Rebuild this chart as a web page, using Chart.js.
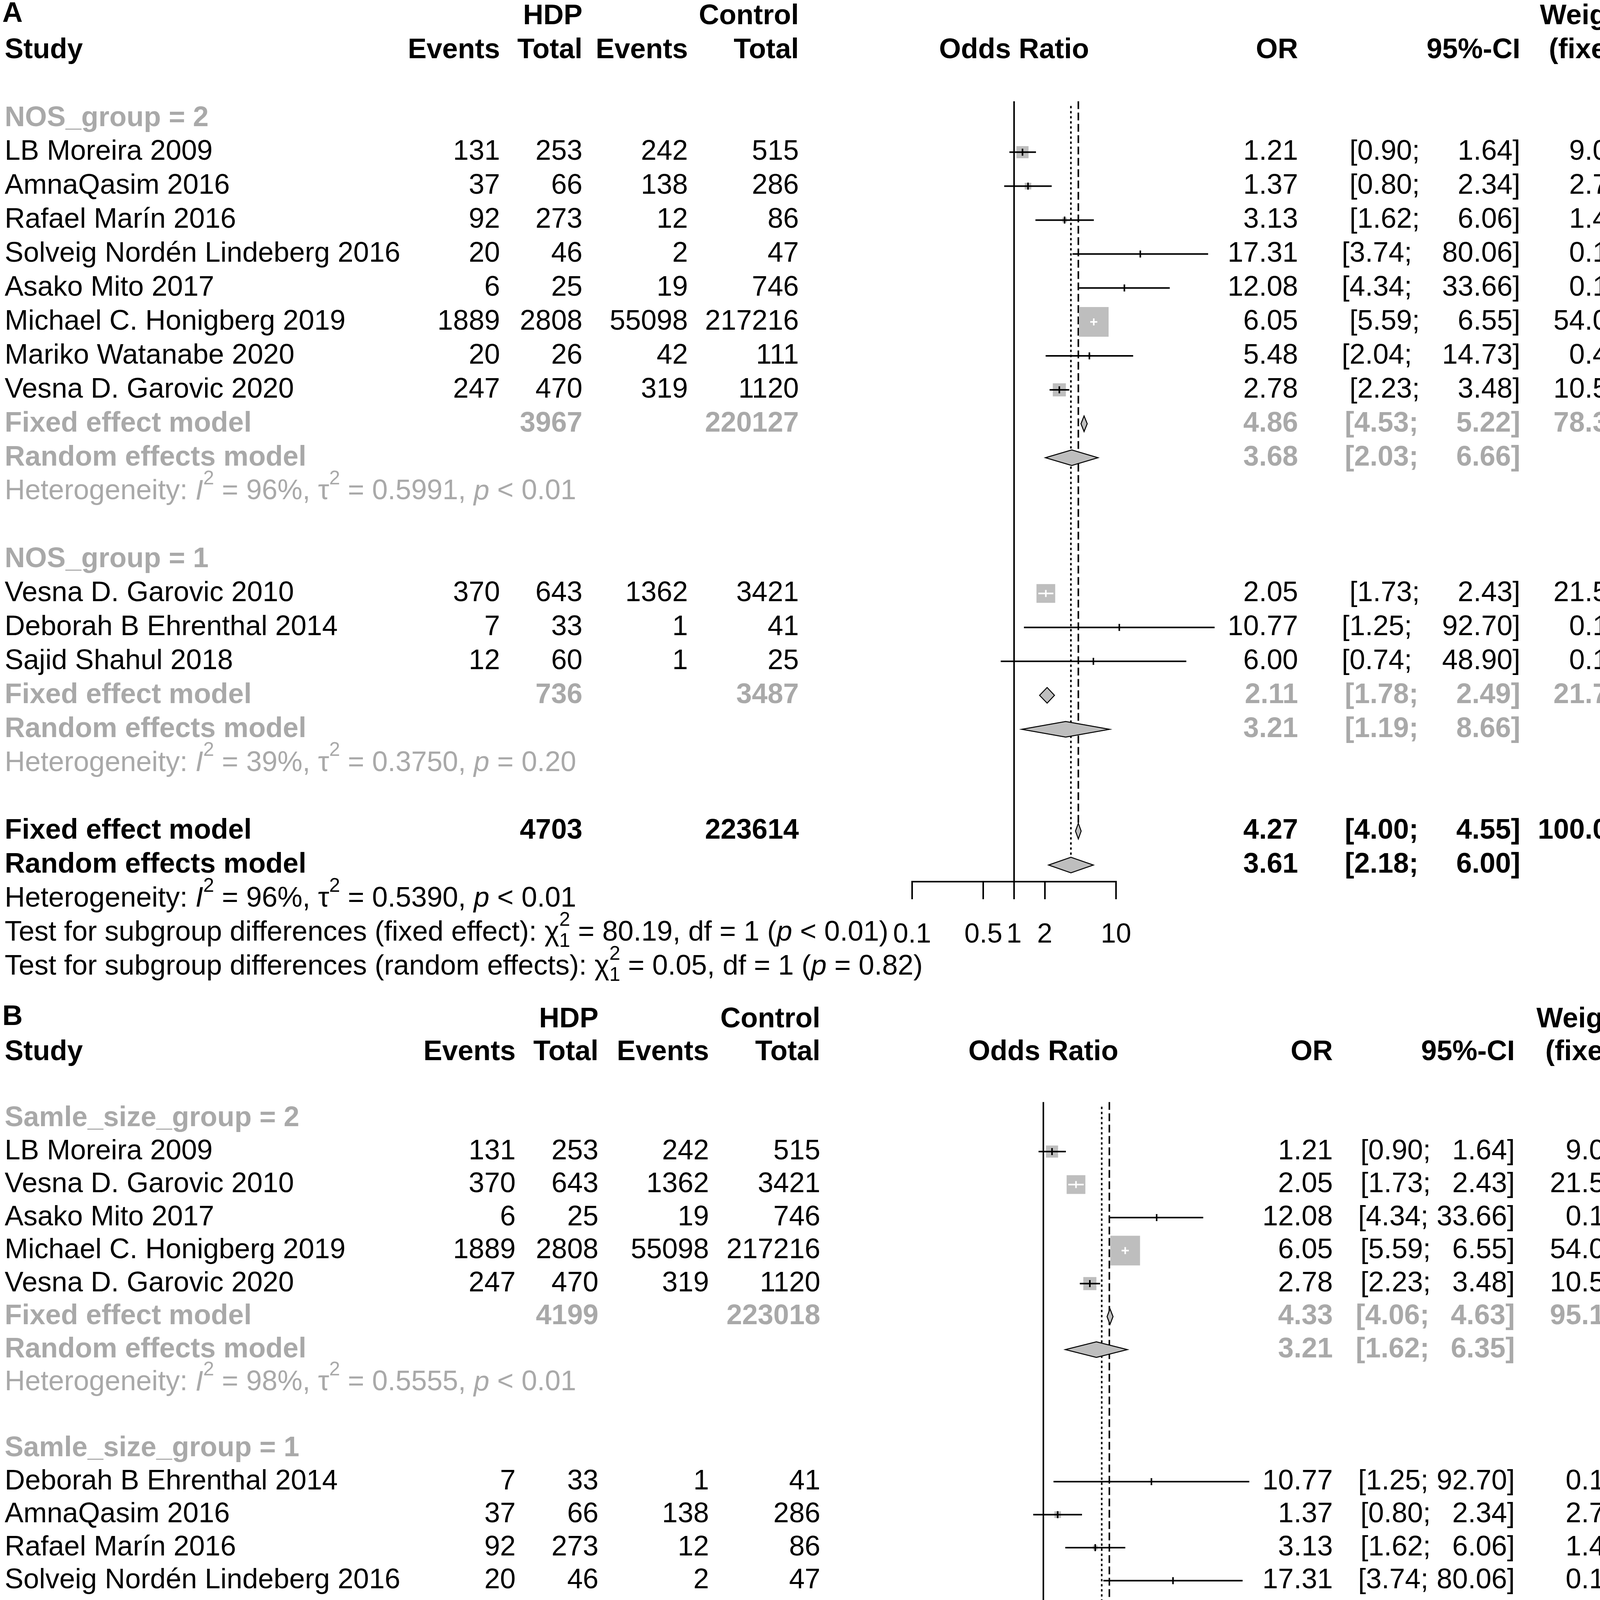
<!DOCTYPE html>
<html>
<head>
<meta charset="utf-8">
<script src="https://cdn.jsdelivr.net/npm/chart.js@4.4.0/dist/chart.umd.min.js"></script>
<style>
  html, body { margin: 0; padding: 0; background: #fff; }
  canvas { display: block; }
</style>
</head>
<body>
<canvas id="panelA" width="4550" height="2540"></canvas>
<canvas id="panelB" width="4550" height="2509"></canvas>
<script>
// studies (same study data used in both panels)
const studyNames = ['LB Moreira 2009', 'AmnaQasim 2016', 'Rafael Marín 2016', 'Solveig Nordén Lindeberg 2016',
  'Asako Mito 2017', 'Michael C. Honigberg 2019', 'Mariko Watanabe 2020', 'Vesna D. Garovic 2020',
  'Vesna D. Garovic 2010', 'Deborah B Ehrenthal 2014', 'Sajid Shahul 2018'];
const hdpEvents  = [131, 37, 92, 20, 6, 1889, 20, 247, 370, 7, 12];
const hdpTotal   = [253, 66, 273, 46, 25, 2808, 26, 470, 643, 33, 60];
const ctrlEvents = [242, 138, 12, 2, 19, 55098, 42, 319, 1362, 1, 1];
const ctrlTotal  = [515, 286, 86, 47, 746, 217216, 111, 1120, 3421, 41, 25];
const oddsRatio  = [1.21, 1.37, 3.13, 17.31, 12.08, 6.05, 5.48, 2.78, 2.05, 10.77, 6.00];
const ciLower    = [0.90, 0.80, 1.62, 3.74, 4.34, 5.59, 2.04, 2.23, 1.73, 1.25, 0.74];
const ciUpper    = [1.64, 2.34, 6.06, 80.06, 33.66, 6.55, 14.73, 3.48, 2.43, 92.70, 48.90];
const weightFixed  = [9.0, 2.7, 1.4, 0.1, 0.1, 54.0, 0.4, 10.5, 21.5, 0.1, 0.1];
const weightRandom = [11.9, 10.9, 10.3, 5.8, 8.2, 12.4, 8.4, 12.1, 12.2, 3.8, 4.0];

// panel A: NOS_group
const groupLabelsA  = ['NOS_group = 2', 'NOS_group = 1'];
const groupStudiesA = [[0, 1, 2, 3, 4, 5, 6, 7], [8, 9, 10]];
const groupTotalsA  = [[3967, 220127], [736, 3487]];
const groupFixedA   = [[4.86, 4.53, 5.22, 78.3], [2.11, 1.78, 2.49, 21.7]];
const groupRandomA  = [[3.68, 2.03, 6.66, 80.0], [3.21, 1.19, 8.66, 20.0]];
const groupHetA     = [['96%', '0.5991', '< 0.01'], ['39%', '0.3750', '= 0.20']];
const subgroupTestA = [['80.19', '< 0.01'], ['0.05', '= 0.82']];

// panel B: Samle_size_group
const groupLabelsB  = ['Samle_size_group = 2', 'Samle_size_group = 1'];
const groupStudiesB = [[0, 8, 4, 5, 7], [9, 1, 2, 3, 10, 6]];
const groupTotalsB  = [[4199, 223018], [504, 596]];
const groupFixedB   = [[4.33, 4.06, 4.63, 95.1], [2.96, 2.10, 4.19, 4.9]];
const groupRandomB  = [[3.21, 1.62, 6.35, 56.8], [4.26, 1.94, 9.33, 43.2]];
const groupHetB     = [['98%', '0.5555', '< 0.01'], ['69%', '0.5655', '< 0.01']];
const subgroupTestB = [['4.49', '= 0.03'], ['0.28', '= 0.59']];

// overall (both panels)
const overallTotals = [4703, 223614];
const overallFixed  = [4.27, 4.00, 4.55, 100.0];
const overallRandom = [3.61, 2.18, 6.00, 100.0];
const overallHet    = ['96%', '0.5390', '< 0.01'];

const tickValues = [0.1, 0.5, 1, 2, 10];

const FONT = '"Liberation Sans", Arial, Helvetica, sans-serif';
const SIZE = 72;
const GREY = '#a9a9a9';
const BOXGREY = '#bebebe';
const W = 4550;
const AXIS_BOX = 180;
const DIAMOND_H = 40;

function boxSide(w) { return 76 * Math.sqrt(w / 54); }

function setFont(ctx, bold, italic, size) {
  ctx.font = (italic ? 'italic ' : '') + (bold ? 'bold ' : '') + (size || SIZE) + 'px ' + FONT;
}
function txt(ctx, s, x, y, align, color, bold) {
  setFont(ctx, bold, false);
  ctx.fillStyle = color;
  ctx.textAlign = align;
  ctx.textBaseline = 'middle';
  ctx.fillText(s, x, y);
}
function rich(ctx, segs, x, y, color) {
  ctx.fillStyle = color;
  ctx.textAlign = 'left';
  ctx.textBaseline = 'middle';
  const small = Math.round(SIZE * 0.7);
  let cx = x;
  segs.forEach(([s, st]) => {
    if (st === 'sup') {
      setFont(ctx, false, false, small);
      ctx.fillText(s, cx, y - SIZE * 0.45);
      cx += ctx.measureText(s).width;
    } else if (st === 'chi') {
      setFont(ctx, false, false, small);
      ctx.fillText('2', cx, y - SIZE * 0.45);
      ctx.fillText('1', cx, y + SIZE * 0.3);
      cx += ctx.measureText('2').width;
    } else {
      setFont(ctx, false, st === 'it');
      ctx.fillText(s, cx, y);
      cx += ctx.measureText(s).width;
    }
  });
}
function hetSegs(h) {
  return [['Heterogeneity: '], ['I', 'it'], ['2', 'sup'], [' = ' + h[0] + ', '], ['τ'], ['2', 'sup'],
    [' = ' + h[1] + ', '], ['p', 'it'], [' ' + h[2]]];
}
function testSegs(kind, t) {
  return [['Test for subgroup differences (' + kind + '): χ'], ['', 'chi'], [' = ' + t[0] + ', df = 1 ('],
    ['p', 'it'], [' ' + t[1] + ')']];
}
function drawCI(ctx, P, lo, hi, y, color, bold) {
  const hiStr = hi.toFixed(2) + ']';
  const loStr = '[' + lo.toFixed(2) + ';';
  setFont(ctx, bold, false);
  ctx.fillStyle = color;
  ctx.textAlign = 'right';
  ctx.textBaseline = 'middle';
  ctx.fillText(hiStr, P.ciR, y);
  const gap = hi < 10 ? P.ciGap[1] : P.ciGap[0];
  ctx.fillText(loStr, P.ciR - ctx.measureText(hiStr).width - gap, y);
}
function pct(v) { return v.toFixed(1) + '%'; }

function buildRows(P) {
  const rows = [];
  let i = 3;
  P.groupLabels.forEach((lab, g) => {
    rows.push({ kind: 'group', i: i++, g });
    P.groupStudies[g].forEach(s => rows.push({ kind: 'study', i: i++, s }));
    rows.push({ kind: 'fixed', i: i++, g });
    rows.push({ kind: 'random', i: i++, g });
    rows.push({ kind: 'het', i: i++, g });
    i++;
  });
  rows.push({ kind: 'allFixed', i: i++ });
  rows.push({ kind: 'allRandom', i: i++ });
  rows.push({ kind: 'allHet', i: i++ });
  rows.push({ kind: 'testFixed', i: i++ });
  rows.push({ kind: 'testRandom', i: i++ });
  return rows;
}

function diamond(ctx, xs, est, lo, hi, yy) {
  const xl = xs.getPixelForValue(lo), xh = xs.getPixelForValue(hi), xm = xs.getPixelForValue(est);
  ctx.beginPath();
  ctx.moveTo(xl, yy);
  ctx.lineTo(xm, yy - DIAMOND_H / 2);
  ctx.lineTo(xh, yy);
  ctx.lineTo(xm, yy + DIAMOND_H / 2);
  ctx.closePath();
  ctx.fillStyle = BOXGREY;
  ctx.fill();
  ctx.lineWidth = 2.5;
  ctx.strokeStyle = '#000';
  ctx.stroke();
}
function seg(ctx, x1, y1, x2, y2) {
  ctx.beginPath();
  ctx.moveTo(x1, y1);
  ctx.lineTo(x2, y2);
  ctx.stroke();
}

function forestPlugin(P, rows) {
  const rowOf = k => rows.find(r => r.kind === k).i;
  return {
    id: 'forest' + P.letter,
    beforeDatasetsDraw(chart) {
      const ctx = chart.ctx, xs = chart.scales.x, ys = chart.scales.y;
      const top = ys.getPixelForValue(2.5);
      ctx.save();
      ctx.strokeStyle = '#000';
      ctx.lineWidth = 4;
      const x1 = xs.getPixelForValue(1);
      seg(ctx, x1, top, x1, chart.chartArea.bottom);
      ctx.setLineDash([6, 7]);
      const xr = xs.getPixelForValue(overallRandom[0]);
      seg(ctx, xr, top + 12, xr, ys.getPixelForValue(rowOf('allRandom')) - DIAMOND_H / 2);
      ctx.setLineDash([20, 9]);
      const xf = xs.getPixelForValue(overallFixed[0]);
      seg(ctx, xf, top, xf, ys.getPixelForValue(rowOf('allFixed')) - DIAMOND_H / 2);
      ctx.restore();
    },
    afterDatasetsDraw(chart) {
      const ctx = chart.ctx, xs = chart.scales.x, ys = chart.scales.y;
      ctx.save();
      ctx.lineWidth = 4;
      rows.forEach(r => {
        const yy = ys.getPixelForValue(r.i);
        if (r.kind === 'study') {
          const s = r.s;
          const xl = xs.getPixelForValue(ciLower[s]), xh = xs.getPixelForValue(ciUpper[s]);
          const xm = xs.getPixelForValue(oddsRatio[s]);
          const inside = (xh - xl) < boxSide(weightFixed[s]);
          ctx.strokeStyle = inside ? '#fff' : '#000';
          ctx.lineWidth = 4;
          seg(ctx, xl, yy, xh, yy);
          seg(ctx, xm, yy - 9, xm, yy + 9);
        } else if (r.kind === 'fixed') {
          const f = P.groupFixed[r.g];
          diamond(ctx, xs, f[0], f[1], f[2], yy);
        } else if (r.kind === 'random') {
          const f = P.groupRandom[r.g];
          diamond(ctx, xs, f[0], f[1], f[2], yy);
        } else if (r.kind === 'allFixed') {
          diamond(ctx, xs, overallFixed[0], overallFixed[1], overallFixed[2], yy);
        } else if (r.kind === 'allRandom') {
          diamond(ctx, xs, overallRandom[0], overallRandom[1], overallRandom[2], yy);
        }
      });
      ctx.restore();
    },
    afterDraw(chart) {
      const ctx = chart.ctx, ys = chart.scales.y;
      const Y = i => ys.getPixelForValue(i);
      const mid = (chart.chartArea.left + chart.chartArea.right) / 2;
      ctx.save();
      // header
      txt(ctx, P.letter, 6, Y(0) - 6, 'left', '#000', true);
      txt(ctx, 'HDP', P.total1, Y(0), 'right', '#000', true);
      txt(ctx, 'Control', P.total2, Y(0), 'right', '#000', true);
      txt(ctx, 'Weight', P.wfR, Y(0), 'right', '#000', true);
      txt(ctx, 'Weight', P.wrR, Y(0), 'right', '#000', true);
      txt(ctx, 'Study', 12, Y(1), 'left', '#000', true);
      txt(ctx, 'Events', P.events1, Y(1), 'right', '#000', true);
      txt(ctx, 'Total', P.total1, Y(1), 'right', '#000', true);
      txt(ctx, 'Events', P.events2, Y(1), 'right', '#000', true);
      txt(ctx, 'Total', P.total2, Y(1), 'right', '#000', true);
      txt(ctx, 'Odds Ratio', mid, Y(1), 'center', '#000', true);
      txt(ctx, 'OR', P.orR, Y(1), 'right', '#000', true);
      txt(ctx, '95%-CI', P.ciR, Y(1), 'right', '#000', true);
      txt(ctx, '(fixed)', P.wfR, Y(1), 'right', '#000', true);
      txt(ctx, '(random)', P.wrR, Y(1), 'right', '#000', true);

      rows.forEach(r => {
        const yy = Y(r.i);
        if (r.kind === 'group') {
          txt(ctx, P.groupLabels[r.g], 12, yy, 'left', GREY, true);
        } else if (r.kind === 'study') {
          const s = r.s;
          txt(ctx, studyNames[s], 12, yy, 'left', '#000', false);
          txt(ctx, String(hdpEvents[s]), P.events1, yy, 'right', '#000', false);
          txt(ctx, String(hdpTotal[s]), P.total1, yy, 'right', '#000', false);
          txt(ctx, String(ctrlEvents[s]), P.events2, yy, 'right', '#000', false);
          txt(ctx, String(ctrlTotal[s]), P.total2, yy, 'right', '#000', false);
          txt(ctx, oddsRatio[s].toFixed(2), P.orR, yy, 'right', '#000', false);
          drawCI(ctx, P, ciLower[s], ciUpper[s], yy, '#000', false);
          txt(ctx, pct(weightFixed[s]), P.wfR, yy, 'right', '#000', false);
          txt(ctx, pct(weightRandom[s]), P.wrR, yy, 'right', '#000', false);
        } else if (r.kind === 'fixed' || r.kind === 'allFixed') {
          const all = r.kind === 'allFixed';
          const col = all ? '#000' : GREY;
          const f = all ? overallFixed : P.groupFixed[r.g];
          const t = all ? overallTotals : P.groupTotals[r.g];
          txt(ctx, 'Fixed effect model', 12, yy, 'left', col, true);
          txt(ctx, String(t[0]), P.total1, yy, 'right', col, true);
          txt(ctx, String(t[1]), P.total2, yy, 'right', col, true);
          txt(ctx, f[0].toFixed(2), P.orR, yy, 'right', col, true);
          drawCI(ctx, P, f[1], f[2], yy, col, true);
          txt(ctx, pct(f[3]), P.wfR, yy, 'right', col, true);
          txt(ctx, '--', P.wrR, yy, 'right', col, true);
        } else if (r.kind === 'random' || r.kind === 'allRandom') {
          const all = r.kind === 'allRandom';
          const col = all ? '#000' : GREY;
          const f = all ? overallRandom : P.groupRandom[r.g];
          txt(ctx, 'Random effects model', 12, yy, 'left', col, true);
          txt(ctx, f[0].toFixed(2), P.orR, yy, 'right', col, true);
          drawCI(ctx, P, f[1], f[2], yy, col, true);
          txt(ctx, '--', P.wfR, yy, 'right', col, true);
          txt(ctx, pct(f[3]), P.wrR, yy, 'right', col, true);
        } else if (r.kind === 'het') {
          rich(ctx, hetSegs(P.groupHet[r.g]), 12, yy, GREY);
        } else if (r.kind === 'allHet') {
          rich(ctx, hetSegs(overallHet), 12, yy, '#000');
        } else if (r.kind === 'testFixed') {
          rich(ctx, testSegs('fixed effect', P.subgroupTest[0]), 12, yy, '#000');
        } else if (r.kind === 'testRandom') {
          rich(ctx, testSegs('random effects', P.subgroupTest[1]), 12, yy, '#000');
        }
      });
      ctx.restore();
    }
  };
}

function makePanel(canvasId, P) {
  const rows = buildRows(P);
  const studyRows = rows.filter(r => r.kind === 'study');
  const yMin = -P.rowTop / P.rowPitch;
  const yMax = yMin + P.axisY / P.rowPitch;
  new Chart(document.getElementById(canvasId), {
    type: 'scatter',
    data: {
      datasets: [{
        data: studyRows.map(r => ({ x: oddsRatio[r.s], y: r.i })),
        pointStyle: 'rect',
        pointRadius: studyRows.map(r => boxSide(weightFixed[r.s]) / Math.SQRT2),
        pointHoverRadius: studyRows.map(r => boxSide(weightFixed[r.s]) / Math.SQRT2),
        backgroundColor: BOXGREY,
        borderWidth: 0,
        clip: false
      }]
    },
    options: {
      responsive: false,
      animation: false,
      devicePixelRatio: 1,
      events: [],
      layout: {
        autoPadding: false,
        padding: { left: P.x0, right: W - P.x1, top: 0, bottom: P.height - P.axisY - AXIS_BOX }
      },
      plugins: { legend: { display: false }, tooltip: { enabled: false } },
      scales: {
        x: {
          type: 'logarithmic',
          min: 0.1,
          max: 10,
          afterBuildTicks: ax => { ax.ticks = tickValues.map(v => ({ value: v })); },
          afterFit: ax => { ax.height = AXIS_BOX; },
          ticks: {
            autoSkip: false, maxRotation: 0, minRotation: 0,
            padding: P.tickPad, color: '#000',
            font: { family: FONT, size: 70 },
            callback: v => String(v)
          },
          grid: { drawOnChartArea: false, drawTicks: true, tickLength: P.tickLen, color: '#000', lineWidth: 4 },
          border: { display: true, color: '#000', width: 4 }
        },
        y: { type: 'linear', display: false, reverse: true, min: yMin, max: yMax }
      }
    },
    plugins: [forestPlugin(P, rows)]
  });
}

makePanel('panelA', {
  letter: 'A', height: 2540, rowTop: 42, rowPitch: 86.9, axisY: 2257, x0: 2335, x1: 2857,
  tickLen: 45, tickPad: 50,
  events1: 1280, total1: 1491, events2: 1761, total2: 2045,
  orR: 3323, ciR: 3892, wfR: 4181, wrR: 4527, ciGap: [77, 97],
  groupLabels: groupLabelsA, groupStudies: groupStudiesA, groupTotals: groupTotalsA,
  groupFixed: groupFixedA, groupRandom: groupRandomA, groupHet: groupHetA, subgroupTest: subgroupTestA
});

makePanel('panelB', {
  letter: 'B', height: 2509, rowTop: 70, rowPitch: 84.5, axisY: 2222, x0: 2403, x1: 2939,
  tickLen: 41, tickPad: 45,
  events1: 1320, total1: 1532, events2: 1815, total2: 2100,
  orR: 3412, ciR: 3878, wfR: 4172, wrR: 4527, ciGap: [21, 55],
  groupLabels: groupLabelsB, groupStudies: groupStudiesB, groupTotals: groupTotalsB,
  groupFixed: groupFixedB, groupRandom: groupRandomB, groupHet: groupHetB, subgroupTest: subgroupTestB
});
</script>
</body>
</html>
